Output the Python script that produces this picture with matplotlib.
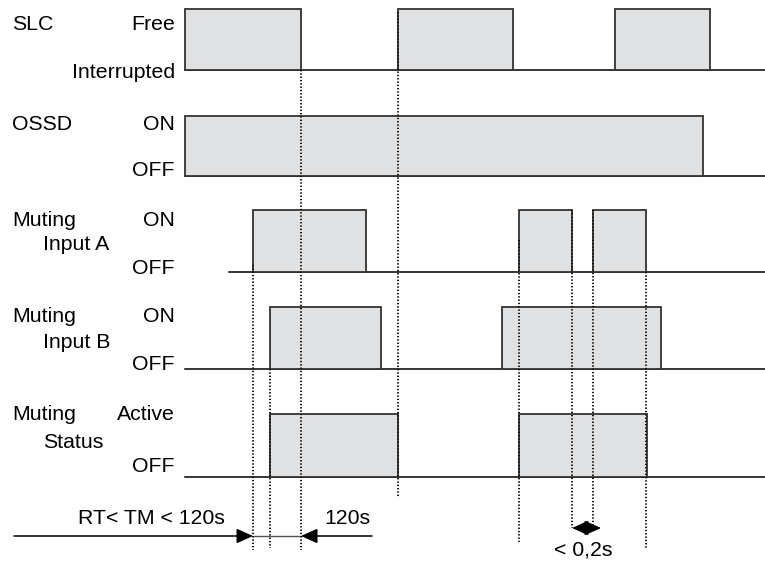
import matplotlib
matplotlib.use('Agg')
import matplotlib.pyplot as plt
from matplotlib.patches import Rectangle

plt.rcParams['font.family'] = ['Liberation Sans', 'DejaVu Sans']

# time axis runs 0..765, each row has a low (bottom) and high (top) level
names = ['SLC', 'OSSD', 'Muting A', 'Muting B', 'Muting Status']
row_top = [9, 116, 210, 307, 414]
row_bot = [70, 176, 272, 369, 477]
base_start = [185, 185, 229, 185, 185]
base_end = [765, 765, 765, 765, 765]
pulses = [
    [(185, 301), (398, 513), (615, 710)],
    [(185, 703)],
    [(253, 366), (519, 572), (593, 646)],
    [(270, 381), (502, 661)],
    [(270, 398), (519, 647)],
]
left_labels = ['SLC', 'OSSD', 'Muting', 'Muting', 'Muting']
sub_labels = [None, None, 'Input A', 'Input B', 'Status']
high_labels = ['Free', 'ON', 'ON', 'ON', 'Active']
low_labels = ['Interrupted', 'OFF', 'OFF', 'OFF', 'OFF']
# label heights
high_y = [24, 124, 220, 317, 415]
sub_y = [None, None, 244, 342, 442]
low_y = [73, 170, 269, 365, 467]

# dotted marker lines: x, y from, y to
dot_x = [253, 270, 301, 398, 519, 572, 593, 646]
dot_y0 = [265, 369, 70, 12, 240, 210, 210, 272]
dot_y1 = [550, 548, 550, 498, 542, 528, 528, 548]

fill_col = '#e0e1e3'
edge_col = '#333333'

fig = plt.figure(figsize=(7.65, 5.62), dpi=100)
ax = fig.add_axes([0, 0, 1, 1])
ax.set_xlim(0, 765)
ax.set_ylim(562, 0)
ax.axis('off')

fs = 15.3
for i in range(len(names)):
    top, bot = row_top[i], row_bot[i]
    ax.plot([base_start[i], base_end[i]], [bot, bot], color='black', lw=1.1, zorder=2)
    for (a, b) in pulses[i]:
        ax.add_patch(Rectangle((a, top), b - a, bot - top, facecolor=fill_col,
                               edgecolor=edge_col, lw=1.3, zorder=3))
    ax.text(12, high_y[i], left_labels[i], fontsize=fs, va='center', ha='left')
    if sub_labels[i]:
        ax.text(43, sub_y[i], sub_labels[i], fontsize=fs, va='center', ha='left')
    ax.text(175, high_y[i], high_labels[i], fontsize=fs, va='center', ha='right')
    ax.text(175, low_y[i], low_labels[i], fontsize=fs, va='center', ha='right')

for x, y0, y1 in zip(dot_x, dot_y0, dot_y1):
    ax.plot([x, x], [y0, y1], color='#111111', lw=1.4, ls=(0, (0.7, 1.0)), zorder=4)

# timing arrows
arr_y = 536
ax.annotate('', xy=(253, arr_y), xytext=(14, arr_y),
            arrowprops=dict(arrowstyle='-|>,head_length=1.0,head_width=0.45',
                            color='black', lw=1.1, shrinkA=0, shrinkB=0,
                            mutation_scale=10))
ax.plot([253, 301], [arr_y, arr_y], color='#555555', lw=1.0)
ax.annotate('', xy=(301, arr_y), xytext=(372, arr_y),
            arrowprops=dict(arrowstyle='-|>,head_length=1.0,head_width=0.45',
                            color='black', lw=1.1, shrinkA=0, shrinkB=0,
                            mutation_scale=10))
ax.annotate('', xy=(572, 528), xytext=(601, 528),
            arrowprops=dict(arrowstyle='<|-|>,head_length=1.0,head_width=0.45',
                            color='black', lw=1.1, shrinkA=0, shrinkB=0,
                            mutation_scale=10))

ax.text(151, 519, 'RT< TM < 120s', fontsize=fs, ha='center', va='center')
ax.text(347, 519, '120s', fontsize=fs, ha='center', va='center')
ax.text(583, 550, '< 0,2s', fontsize=fs, ha='center', va='center')

fig.savefig('out.png', dpi=100)
